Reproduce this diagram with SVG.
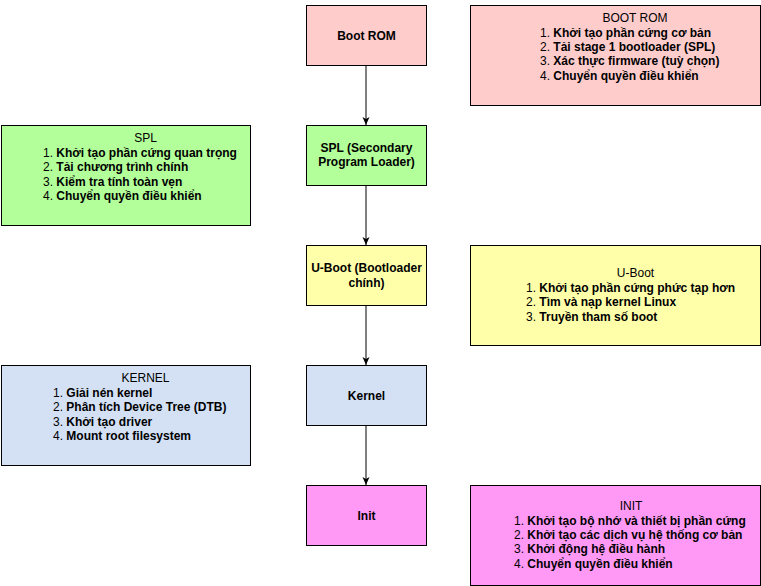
<svg xmlns="http://www.w3.org/2000/svg" width="761" height="586" viewBox="0 0 761 586">
<defs>
<style>
.box{stroke:#000;stroke-width:1}
.t{font-family:"Liberation Sans",Arial,sans-serif;font-size:12px;fill:#000}
.b{font-weight:bold}
.c{text-anchor:middle}
.conn{stroke:#000;stroke-width:1;fill:none}
</style>
<marker id="arr" markerUnits="userSpaceOnUse" viewBox="0 0 8 8" refX="8" refY="4" markerWidth="8" markerHeight="8" orient="auto">
<path d="M0,0.5 L8,4 L0,7.5 L2,4 z" fill="#000"/>
</marker>
</defs>
<rect width="761" height="586" fill="#fff"/>

<g id="connectors">
<line class="conn" x1="366" y1="65" x2="366" y2="125" marker-end="url(#arr)"/>
<line class="conn" x1="366" y1="185" x2="366" y2="245" marker-end="url(#arr)"/>
<line class="conn" x1="366" y1="305" x2="366" y2="365" marker-end="url(#arr)"/>
<line class="conn" x1="366" y1="425" x2="366" y2="485" marker-end="url(#arr)"/>
</g>

<g id="boot-rom">
<rect class="box" x="306.5" y="5.5" width="120" height="60" fill="#FFCCCC"/>
<text class="t b c" x="366.5" y="39.5">Boot ROM</text>
</g>
<g id="boot-rom-info">
<rect class="box" x="470.5" y="5.5" width="290" height="100" fill="#FFCCCC"/>
<text class="t c" x="635" y="21.5">BOOT ROM</text>
<text class="t" x="540" y="36.5">1. <tspan class="b">Khởi tạo phần cứng cơ bản</tspan></text>
<text class="t" x="540" y="50.9">2. <tspan class="b">Tải stage 1 bootloader (SPL)</tspan></text>
<text class="t" x="540" y="65.3">3. <tspan class="b">Xác thực firmware (tuỳ chọn)</tspan></text>
<text class="t" x="540" y="79.7">4. <tspan class="b">Chuyển quyền điều khiển</tspan></text>
</g>

<g id="spl">
<rect class="box" x="306.5" y="125.5" width="120" height="60" fill="#B3FF99"/>
<text class="t b c" x="366.5" y="151.5">SPL (Secondary</text>
<text class="t b c" x="366.5" y="166">Program Loader)</text>
</g>
<g id="spl-info">
<rect class="box" x="1.5" y="125.5" width="249" height="100" fill="#B3FF99"/>
<text class="t c" x="145.5" y="142">SPL</text>
<text class="t" x="43" y="157">1. <tspan class="b">Khởi tạo phần cứng quan trọng</tspan></text>
<text class="t" x="43" y="171.4">2. <tspan class="b">Tải chương trình chính</tspan></text>
<text class="t" x="43" y="185.8">3. <tspan class="b">Kiểm tra tính toàn vẹn</tspan></text>
<text class="t" x="43" y="200.2">4. <tspan class="b">Chuyển quyền điều khiển</tspan></text>
</g>

<g id="u-boot">
<rect class="box" x="306.5" y="245.5" width="120" height="60" fill="#FFFFAA"/>
<text class="t b c" x="366.5" y="272">U-Boot (Bootloader</text>
<text class="t b c" x="366.5" y="286.5">chính)</text>
</g>
<g id="u-boot-info">
<rect class="box" x="470.5" y="245.5" width="290" height="100" fill="#FFFFAA"/>
<text class="t c" x="635.5" y="277">U-Boot</text>
<text class="t" x="526" y="292">1. <tspan class="b">Khởi tạo phần cứng phức tạp hơn</tspan></text>
<text class="t" x="526" y="306.4">2. <tspan class="b">Tìm và nạp kernel Linux</tspan></text>
<text class="t" x="526" y="320.8">3. <tspan class="b">Truyền tham số boot</tspan></text>
</g>

<g id="kernel">
<rect class="box" x="306.5" y="365.5" width="120" height="60" fill="#D4E1F5"/>
<text class="t b c" x="366.5" y="399.5">Kernel</text>
</g>
<g id="kernel-info">
<rect class="box" x="1.5" y="365.5" width="249" height="100" fill="#D4E1F5"/>
<text class="t c" x="145.5" y="382">KERNEL</text>
<text class="t" x="53" y="397">1. <tspan class="b">Giải nén kernel</tspan></text>
<text class="t" x="53" y="411.4">2. <tspan class="b">Phân tích Device Tree (DTB)</tspan></text>
<text class="t" x="53" y="425.8">3. <tspan class="b">Khởi tạo driver</tspan></text>
<text class="t" x="53" y="440.2">4. <tspan class="b">Mount root filesystem</tspan></text>
</g>

<g id="init">
<rect class="box" x="306.5" y="485.5" width="120" height="60" fill="#FF99F5"/>
<text class="t b c" x="366.5" y="519.5">Init</text>
</g>
<g id="init-info">
<rect class="box" x="470.5" y="485.5" width="290" height="100" fill="#FF99F5"/>
<text class="t c" x="631" y="509.5">INIT</text>
<text class="t" x="514" y="524.5">1. <tspan class="b">Khởi tạo bộ nhớ và thiết bị phần cứng</tspan></text>
<text class="t" x="514" y="538.9">2. <tspan class="b">Khởi tạo các dịch vụ hệ thống cơ bản</tspan></text>
<text class="t" x="514" y="553.3">3. <tspan class="b">Khởi động hệ điều hành</tspan></text>
<text class="t" x="514" y="567.7">4. <tspan class="b">Chuyển quyền điều khiển</tspan></text>
</g>
</svg>
